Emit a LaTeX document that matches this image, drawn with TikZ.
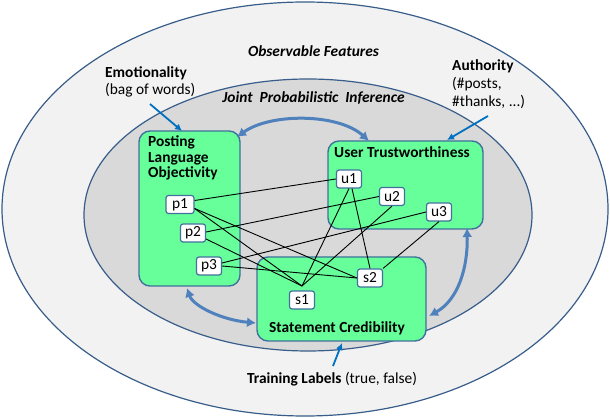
\documentclass[tikz,border=0pt]{standalone}
\usepackage{fontspec}
\setmainfont{Carlito}
\usetikzlibrary{arrows.meta}
\definecolor{outerfill}{HTML}{F2F2F2}
\definecolor{innerfill}{HTML}{D9D9D9}
\definecolor{edgeblue}{HTML}{385D8A}
\definecolor{boxedge}{HTML}{41719C}
\definecolor{mint}{HTML}{66FF99}
\definecolor{bigblue}{HTML}{4F81BD}
\definecolor{thinblue}{HTML}{0070C0}
\tikzset{
  lbl/.style={font=\fontsize{15.4}{18}\selectfont, inner sep=0pt},
  bigbox/.style={draw=boxedge, fill=mint, line width=1.4pt, rounded corners=11pt, inner sep=0pt},
  var/.style={draw=boxedge, fill=white, line width=1.2pt, rounded corners=2.5pt,
    minimum width=25pt, minimum height=18pt, inner sep=1pt, font=\fontsize{15.4}{18}\selectfont},
  rel/.style={black, line width=0.9pt},
  bigarrow/.style={draw=bigblue, line width=3pt, {Latex[length=9pt,width=10pt]}-{Latex[length=9pt,width=10pt]}},
  thinarrow/.style={draw=thinblue, line width=1.8pt, -{Latex[length=7pt,width=7pt]}},
}
\begin{document}
\begin{tikzpicture}[x=1pt,y=-1pt]
\useasboundingbox (0,0) rectangle (610,419);
% ellipses
\draw[fill=outerfill, draw=edgeblue, line width=1.2pt] (305,209) ellipse [x radius=303, y radius=207];
\draw[fill=innerfill, draw=edgeblue, line width=1.2pt] (308,215) ellipse [x radius=224, y radius=136];
% outer texts
\node[lbl, anchor=base] (obs) at (313.5,57) {\textbf{\textit{Observable Features}}};
\node[lbl, anchor=base] (jpi) at (313.5,103) {\textbf{\textit{Joint\hspace{0.45em}Probabilistic\hspace{0.45em}Inference}}};
\node[lbl, anchor=base west] (emo) at (105,78) {\textbf{Emotionality}};
\node[lbl, anchor=base west] (emo2) at (105,95) {(bag of words)};
\node[lbl, anchor=base west] (auth) at (452,71) {\textbf{Authority}};
\node[lbl, anchor=base west] (auth2) at (452,89) {(\#posts,};
\node[lbl, anchor=base west] (auth3) at (452,107) {\#thanks, ...)};
\node[lbl, anchor=base] (train) at (332,383) {\textbf{Training Labels} (true, false)};
% big boxes
\node[bigbox, minimum width=101pt, minimum height=155pt] (plo) at (189.5,208.5) {};
\node[bigbox, minimum width=155pt, minimum height=88pt] (ut) at (405.5,185) {};
\node[bigbox, minimum width=169pt, minimum height=84pt] (sc) at (341.5,299) {};
\node[lbl, anchor=base west] (plo1) at (148,147) {\textbf{Posting}};
\node[lbl, anchor=base west] (plo2) at (148,163) {\textbf{Language}};
\node[lbl, anchor=base west] (plo3) at (148,178) {\textbf{Objectivity}};
\node[lbl, anchor=base west] (utt) at (334,158) {\textbf{User Trustworthiness}};
\node[lbl, anchor=base west] (sct) at (269,333) {\textbf{Statement Credibility}};
% thin arrows
\coordinate (emoS) at (150,104);
\coordinate (emoE) at (182,131);
\draw[thinarrow] (emoS) -- (emoE);
\coordinate (authS) at (488,116);
\coordinate (authE) at (447,140);
\draw[thinarrow] (authS) -- (authE);
\coordinate (trS) at (333,366);
\coordinate (trE) at (342,343);
\draw[thinarrow] (trS) -- (trE);
% big arrows
\coordinate (a1s) at (237,137);
\coordinate (a1e) at (369,141);
\draw[bigarrow] (a1s) .. controls (270,113) and (338,113) .. (a1e);
\coordinate (a2s) at (187,288);
\coordinate (a2e) at (256,323);
\draw[bigarrow] (a2s) .. controls (193,306) and (222,320) .. (a2e);
\coordinate (a3s) at (467,228);
\coordinate (a3e) at (429,316);
\draw[bigarrow] (a3s) .. controls (468,268) and (458,300) .. (a3e);
% variable nodes
\node[var, minimum width=28pt] (p1) at (180,204.5) {p1};
\node[var] (p2) at (193,233) {p2};
\node[var] (p3) at (209,266) {p3};
\node[var] (u1) at (349,179) {u1};
\node[var] (u2) at (392,196.5) {u2};
\node[var] (u3) at (439,212) {u3};
\node[var] (s1) at (302,300) {s1};
\node[var] (s2) at (370,278) {s2};
\coordinate (s1c) at (302,286);
% relations
\draw[rel] (p1.east) ++(0,-4) -- (u1.west);
\draw[rel] (p1.east) ++(0,4) -- (s1c);
\draw[rel] (p1.east) ++(0,4) -- (s2.west);
\draw[rel] (p2.east) ++(0,-1) -- (u2.west);
\draw[rel] (p2.east) ++(0,6) -- (s1c);
\draw[rel] (p3.east) ++(0,-3) -- (u3.west);
\draw[rel] (p3.east) ++(0,0) -- (s2.west);
\draw[rel] (u1.south) -- (s1c);
\draw[rel] (u1.south) ++(3,0) -- (s2.north);
\draw[rel] (u2.south) -- (s1c);
\draw[rel] (u3.south) -- (s2.north east);
\end{tikzpicture}
\end{document}
